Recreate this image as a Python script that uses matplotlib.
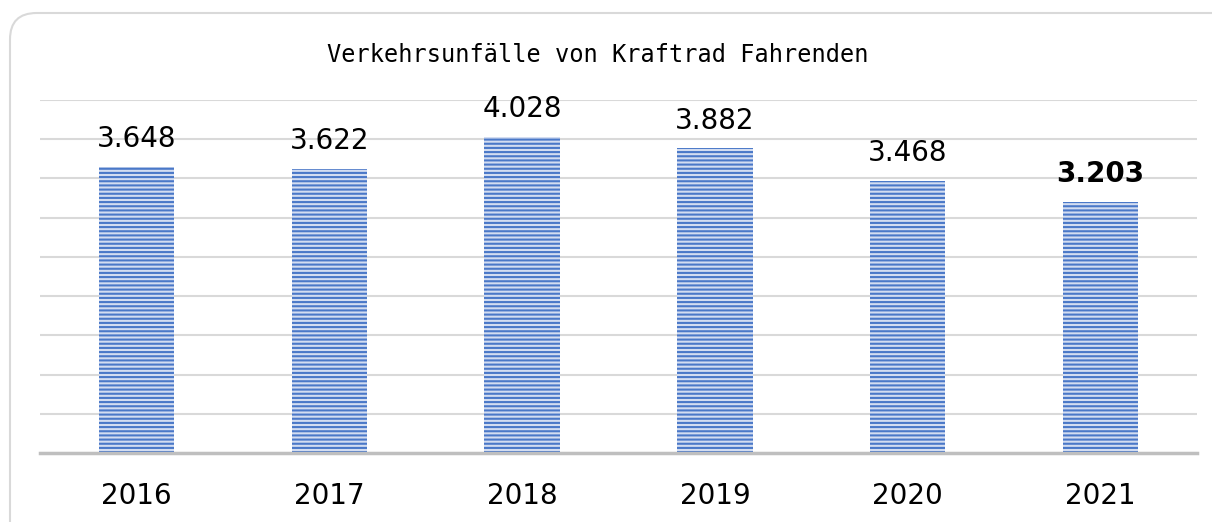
import matplotlib
matplotlib.use("Agg")
import matplotlib.pyplot as plt
from matplotlib.patches import FancyBboxPatch

# Daten
jahre = ["2016", "2017", "2018", "2019", "2020", "2021"]
unfaelle = [3.648, 3.622, 4.028, 3.882, 3.468, 3.203]
beschriftung = ["3.648", "3.622", "4.028", "3.882", "3.468", "3.203"]
fett = [False, False, False, False, False, True]
titel = "Verkehrsunfälle von Kraftrad Fahrenden"

plt.rcParams["hatch.linewidth"] = 1.5

fig = plt.figure(figsize=(12.12, 5.22), dpi=100)
ax = fig.add_axes([40/1212, 69/522, 1157/1212, 353/522])

# Rahmen mit runden Ecken
rahmen = FancyBboxPatch((10/1212, -0.1), 1.2, (522 - 13)/522 + 0.1,
                        boxstyle="round,pad=0,rounding_size=0.022",
                        transform=fig.transFigure, facecolor="none",
                        edgecolor="#d9d9d9", linewidth=1.5, mutation_aspect=2.3)
fig.patches.append(rahmen)

x = range(len(jahre))
ax.bar(x, unfaelle, width=0.39, color="#d3ddf1", edgecolor="#4a78c8",
       linewidth=0, hatch="----", zorder=3)

for i, v in enumerate(unfaelle):
    ax.annotate(beschriftung[i], (i, v), xytext=(0, 10), textcoords="offset points",
                ha="center", va="bottom", fontsize=20,
                fontweight="bold" if fett[i] else "normal", color="black")

ax.set_xlim(-0.5, len(jahre) - 0.5)
ax.set_ylim(0, 4.5)
ax.set_yticks([i * 0.5 for i in range(10)])
ax.set_yticklabels([])
ax.grid(axis="y", color="#d9d9d9", linewidth=1.5, zorder=0)
ax.tick_params(axis="y", length=0)
ax.tick_params(axis="x", length=0, labelsize=20, pad=21)
ax.set_xticks(list(x))
ax.set_xticklabels(jahre)
for s in ["top", "right", "left"]:
    ax.spines[s].set_visible(False)
ax.spines["bottom"].set_color("#bfbfbf")
ax.spines["bottom"].set_linewidth(2.5)
ax.spines["bottom"].set_zorder(4)

fig.text(598/1212, 1 - 55/522, titel, ha="center", va="center",
         fontsize=17, family="DejaVu Sans Mono", color="black")

fig.savefig("out.png", dpi=100)
